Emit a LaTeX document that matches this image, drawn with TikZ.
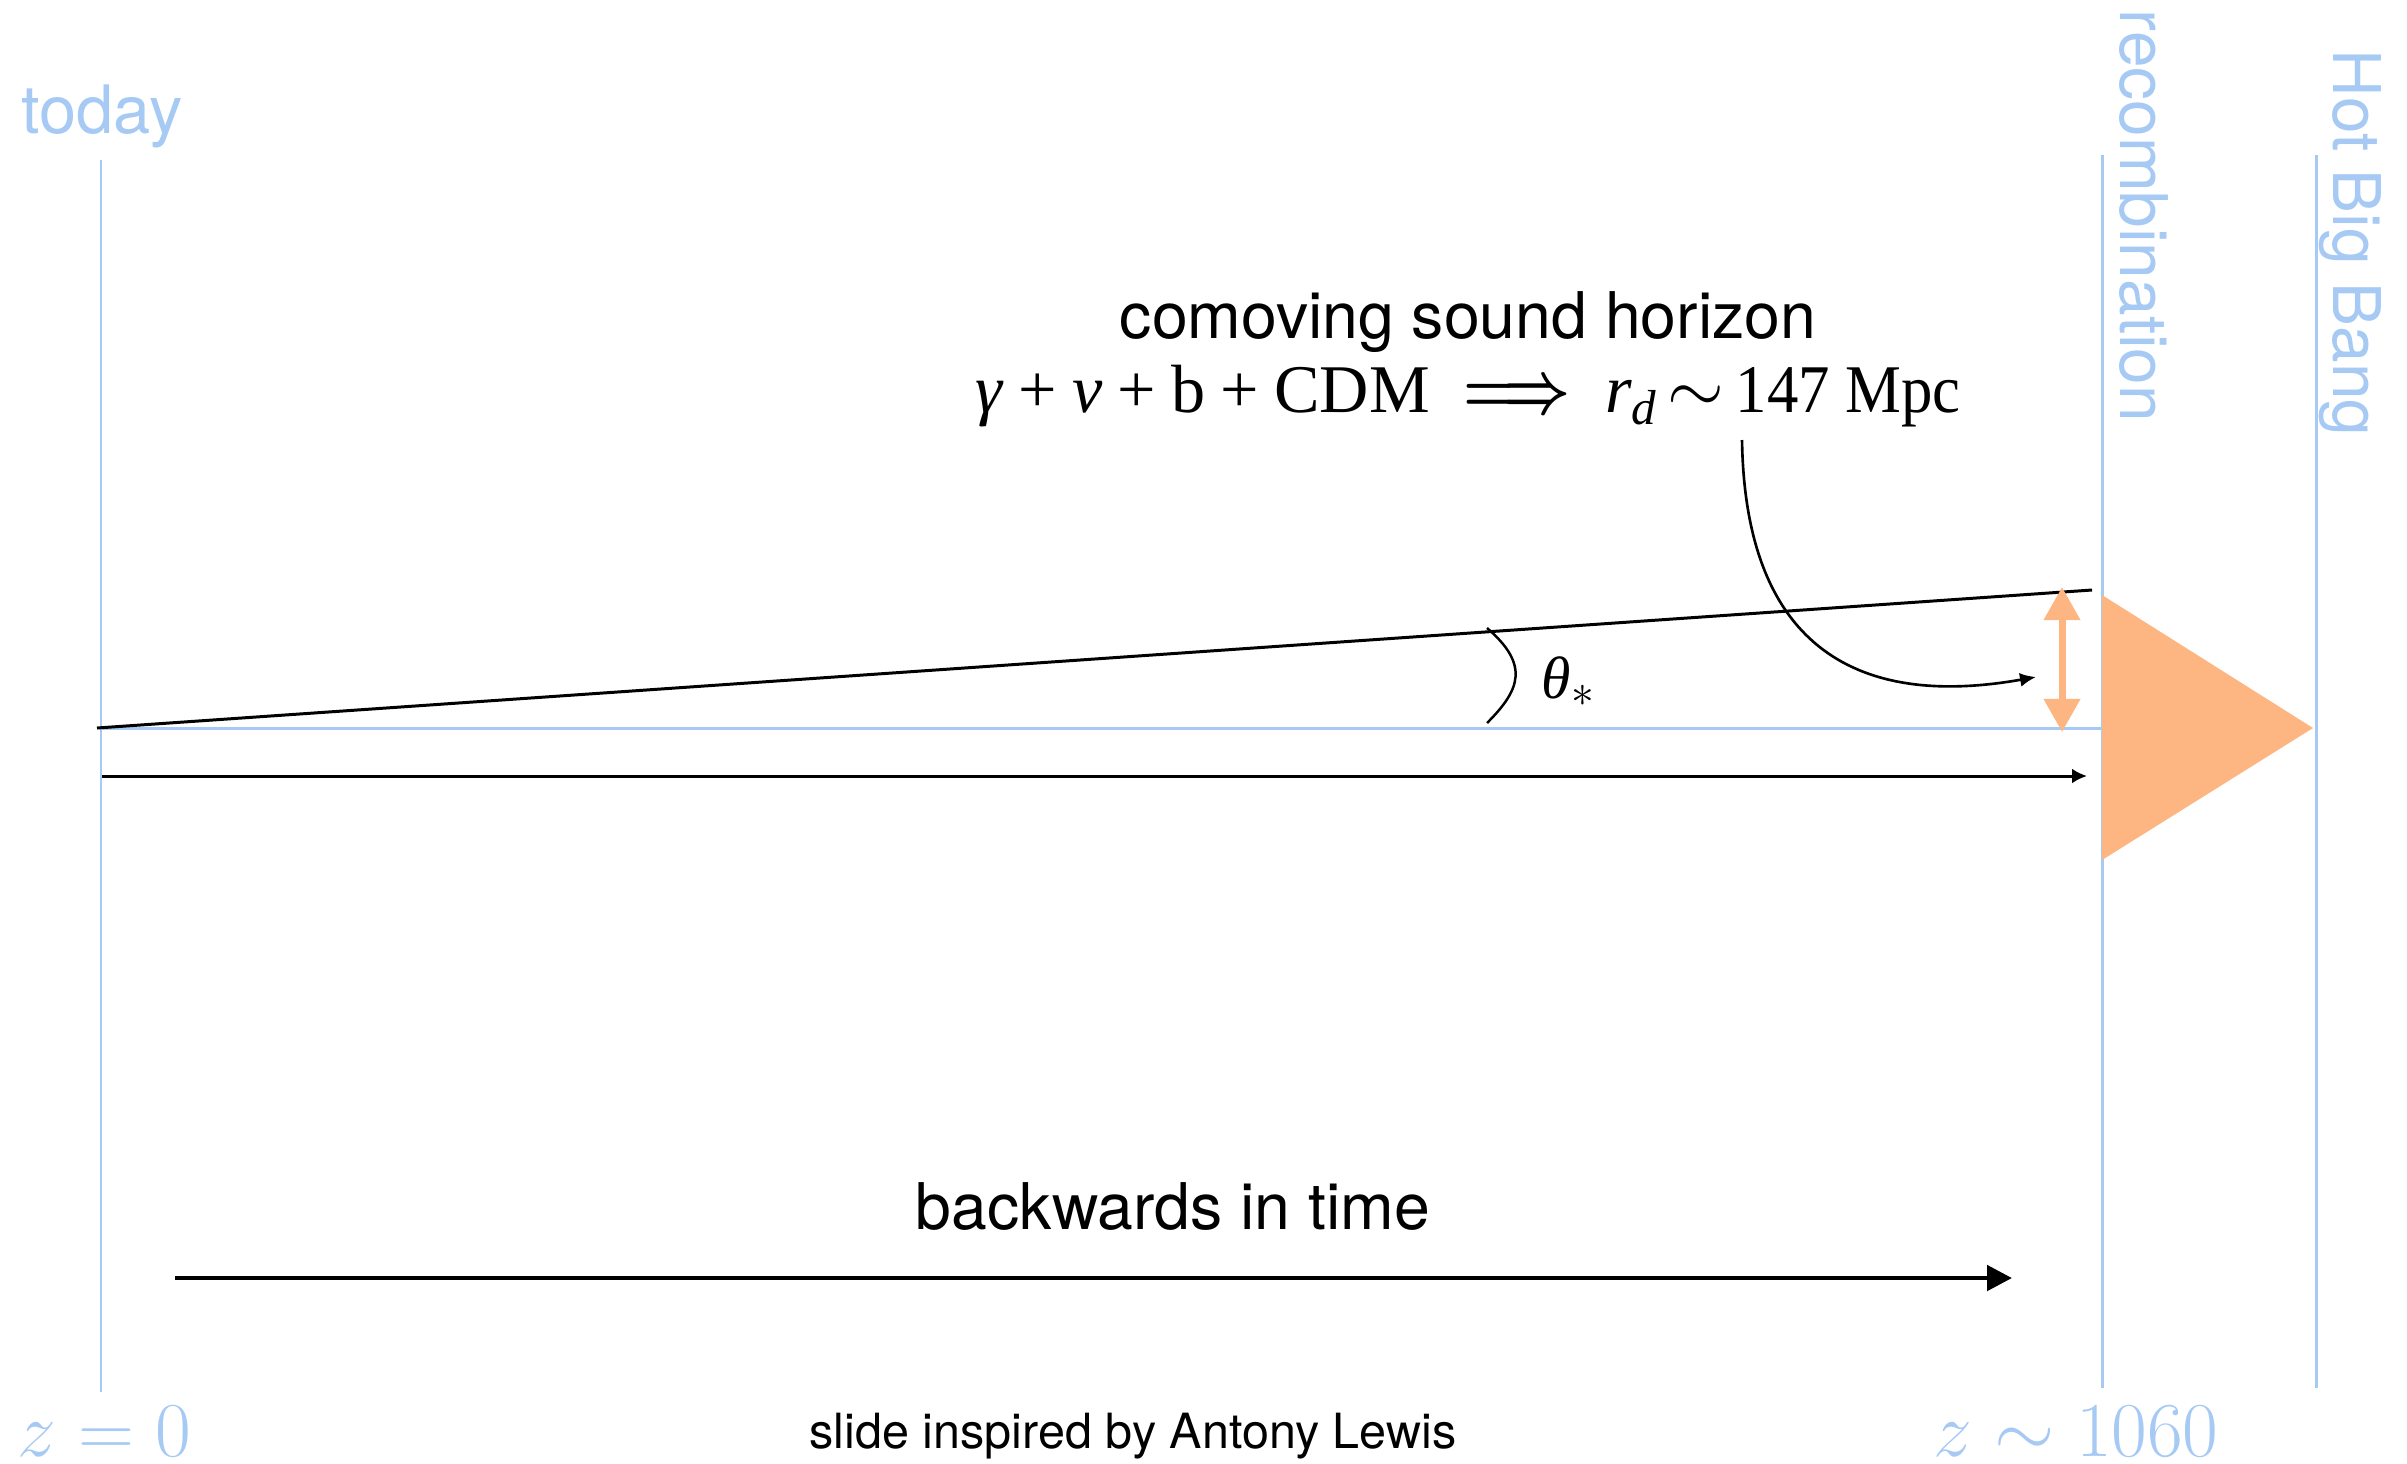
\documentclass[tikz,border=0pt]{standalone}
\usepackage{fontspec}
\usepackage{graphicx}
\setmainfont{TeX Gyre Heros}
\newfontfamily\tnr{Liberation Serif}
\usetikzlibrary{arrows.meta}
\definecolor{skyline}{RGB}{166,202,243}
\definecolor{peach}{RGB}{253,182,130}
\newcommand{\zbig}[1]{\scalebox{1.065}{$#1$}}
\begin{document}
\begin{tikzpicture}[x=0.01cm,y=-0.01cm,
  bluerule/.style={draw=skyline,line width=0.85pt},
  bluetext/.style={text=skyline,inner sep=0pt,font=\fontsize{19}{21}\selectfont},
  sidetext/.style={text=skyline,inner sep=0pt,font=\fontsize{18.7}{21}\selectfont,rotate=-90,anchor=base west},
  zlabel/.style={text=skyline,inner sep=0pt,font=\fontsize{20.74}{24}\selectfont},
  plaintext/.style={inner sep=0pt,font=\fontsize{18.3}{21}\selectfont},
  thinline/.style={draw=black,line width=0.85pt},
  ]
\useasboundingbox (0,0) rectangle (2407,1463);

% coordinates
\coordinate (t0) at (101,160);
\coordinate (t1) at (101,1392);
\coordinate (r0) at (2102,155);
\coordinate (r1) at (2102,1388);
\coordinate (b0) at (2316,155);
\coordinate (b1) at (2316,1388);
\coordinate (h0) at (101,728);
\coordinate (h1) at (2102,728);
\coordinate (s0) at (97,728);
\coordinate (s1) at (2092,590);
\coordinate (m0) at (102,776);
\coordinate (m1) at (2087,776);
\coordinate (o0) at (2062,587);
\coordinate (o1) at (2062,732);
\coordinate (c0) at (1742,440);
\coordinate (c1) at (2036,677);
\coordinate (a0) at (1487,628);
\coordinate (a1) at (1487,723);
\coordinate (k0) at (175,1278);
\coordinate (k1) at (2012,1278);
\coordinate (tri1) at (2102,595);
\coordinate (tri2) at (2313,728);
\coordinate (tri3) at (2102,860);

% blue rules
\draw[bluerule] (t0) -- (t1);
\draw[bluerule] (r0) -- (r1);
\draw[bluerule] (b0) -- (b1);
\draw[bluerule] (h0) -- (h1);

% orange triangle
\fill[peach] (tri1) -- (tri2) -- (tri3) -- cycle;

% labels
\node[bluetext,anchor=base west] (today) at (21,133) {today};
\node[sidetext] (recomb) at (2120,9) {recombination};
\node[sidetext] (hbb) at (2333,49) {Hot Big Bang};
\node[zlabel,anchor=base west] (z0) at (17,1456) {\zbig{z=0}};
\node[zlabel,anchor=base west] (z1) at (1933,1456) {\zbig{z\sim1060}};

% sight lines
\draw[thinline] (s0) -- (s1);
\draw[thinline,-{Latex[length=0.15cm,width=0.15cm]}] (m0) -- (m1);

% angle
\draw[thinline,line width=0.7pt] (a0) .. controls (1530,665) and (1520,690) .. (a1);
\node[inner sep=0pt,anchor=base west,font=\tnr\fontsize{17}{20}\selectfont] (theta) at (1541,698) {\textit{θ}\raisebox{-0.3ex}{\scalebox{0.75}{$*$}}};

% orange double arrow
\draw[draw=peach,line width=2pt,{Triangle[length=0.33cm,width=0.35cm]}-{Triangle[length=0.33cm,width=0.35cm]}] (o0) -- (o1);

% header texts
\node[plaintext,anchor=base] (csh) at (1468,338) {comoving sound horizon};
\node[inner sep=0pt,anchor=base,font=\tnr\fontsize{19.4}{23}\selectfont] (formula) at (1468,412)
  {\textit{γ}\:+\:\textit{ν}\:+\:b\:+\:CDM\ \ \scalebox{0.8}[1]{\boldmath$\Longrightarrow$}\ \ \textit{r}\raisebox{-0.4ex}{\scalebox{0.72}{\textit{d}}}\,$\sim$\,\scalebox{0.92}[1]{147 Mpc}};

% curved pointer
\draw[thinline,line width=0.75pt,-{Latex[length=0.16cm,width=0.14cm]}] (c0) .. controls (1745,640) and (1850,710) .. (c1);

% bottom
\node[plaintext,anchor=base] (bit) at (1173,1229) {backwards in time};
\draw[draw=black,line width=1.4pt,-{Triangle[length=0.25cm,width=0.25cm]}] (k0) -- (k1);
\node[inner sep=0pt,anchor=base,font=\fontsize{13.8}{16}\selectfont] (credit) at (1133,1448) {slide inspired by Antony Lewis};
\end{tikzpicture}
\end{document}
